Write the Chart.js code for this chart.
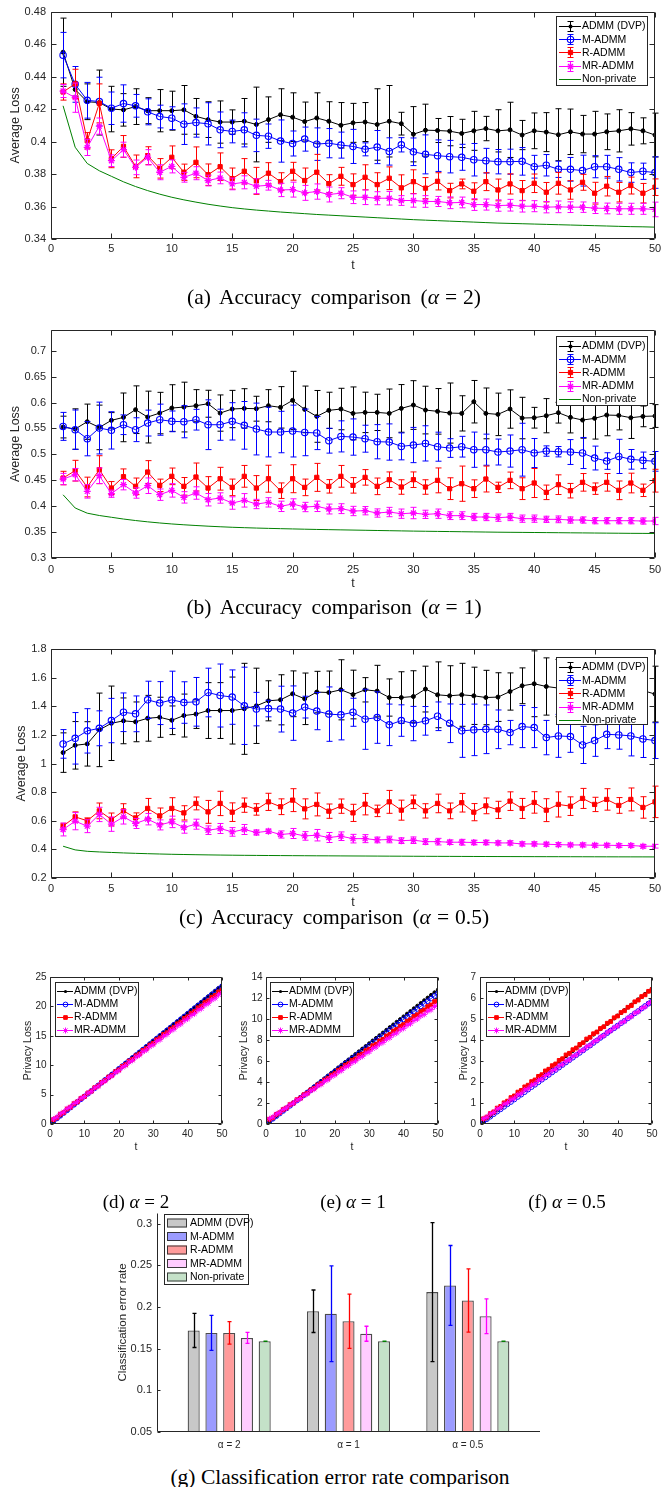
<!DOCTYPE html>
<html><head><meta charset="utf-8">
<script src="https://cdn.jsdelivr.net/npm/chart.js@4.4.1/dist/chart.umd.min.js"></script>
<style>
body{margin:0;background:#fff;}
#wrap{position:relative;width:668px;height:1487px;overflow:hidden;background:#fff;}
canvas{position:absolute;}
.cap{position:absolute;font-family:"Liberation Serif","Times New Roman",serif;font-size:21.5px;color:#000;white-space:nowrap;line-height:24px;transform:translateX(-50%);z-index:2;}
.cap.big{word-spacing:4px;}
.cap.sm{font-size:19px;}
.eq{padding:0 6px;}
</style></head><body>
<div id="wrap">
<canvas id="cA" width="668" height="290" style="left:0;top:0"></canvas>
<canvas id="cB" width="668" height="300" style="left:0;top:300px"></canvas>
<canvas id="cC" width="668" height="300" style="left:0;top:620px"></canvas>
<canvas id="cD" width="232" height="200" style="left:0;top:960px"></canvas>
<canvas id="cE" width="226" height="200" style="left:222px;top:960px"></canvas>
<canvas id="cF" width="232" height="200" style="left:436px;top:960px"></canvas>
<canvas id="cG" width="470" height="265" style="left:90px;top:1200px"></canvas>
<div class="cap big" style="left:334px;top:285px">(a) Accuracy comparison (<i>α</i><span class="eq">=</span>2)</div>
<div class="cap big" style="left:334px;top:595px">(b) Accuracy comparison (<i>α</i><span class="eq">=</span>1)</div>
<div class="cap big" style="left:334px;top:905px">(c) Accuracy comparison (<i>α</i><span class="eq">=</span>0.5)</div>
<div class="cap sm" style="left:136px;top:1190px">(d) <i>α</i> = 2</div>
<div class="cap sm" style="left:353px;top:1190px">(e) <i>α</i> = 1</div>
<div class="cap sm" style="left:567px;top:1190px">(f) <i>α</i> = 0.5</div>
<div class="cap" style="left:340px;top:1465px">(g) Classification error rate comparison</div>
</div>
<script>
// ---------- DATA ----------
const T = [1,2,3,4,5,6,7,8,9,10,11,12,13,14,15,16,17,18,19,20,21,22,23,24,25,26,27,28,29,30,31,32,33,34,35,36,37,38,39,40,41,42,43,44,45,46,47,48,49,50];
const NAMES = ['ADMM (DVP)','M-ADMM','R-ADMM','MR-ADMM','Non-private'];

const NONPRIV = [0.422,0.3965,0.3865,0.382,0.3786,0.3752,0.3723,0.3698,0.3676,0.3657,
0.3641,0.3627,0.3614,0.3603,0.3593,0.3585,0.3578,0.3572,0.3566,0.3561,
0.3556,0.3551,0.3547,0.3543,0.3539,0.3535,0.3531,0.3527,0.3523,0.3519,
0.3516,0.3513,0.351,0.3507,0.3504,0.3501,0.3498,0.3496,0.3494,0.3492,
0.349,0.3488,0.3486,0.3484,0.3482,0.348,0.3478,0.3476,0.3475,0.3473];

// (a) alpha = 2
const A_DVP = [0.455,0.432,0.4245,0.424,0.420,0.4195,0.4215,0.419,0.419,0.419,
0.4195,0.4155,0.4135,0.412,0.412,0.4125,0.4105,0.4135,0.4165,0.415,
0.4123,0.4145,0.4125,0.41,0.4115,0.412,0.4105,0.4125,0.411,0.4045,
0.407,0.4068,0.4064,0.405,0.4066,0.408,0.4066,0.4072,0.404,0.4066,
0.4058,0.4042,0.406,0.4046,0.4046,0.406,0.4066,0.4078,0.4066,0.404];
const A_DVP_ERR = [0.021,0.004,0.011,0.02,0.014,0.01,0.011,0.008,0.013,0.012,
0.015,0.011,0.011,0.013,0.0075,0.014,0.023,0.014,0.016,0.015,
0.012,0.0155,0.012,0.014,0.012,0.012,0.022,0.022,0.007,0.017,
0.016,0.0074,0.009,0.0087,0.012,0.0075,0.013,0.017,0.009,0.011,
0.012,0.016,0.014,0.0115,0.014,0.011,0.013,0.01,0.008,0.0135];
const A_M = [0.4532,0.4352,0.4254,0.4246,0.4205,0.4234,0.422,0.4183,0.4154,0.4144,
0.4107,0.4117,0.4109,0.4072,0.4062,0.4072,0.4038,0.4033,0.4003,0.3988,
0.4015,0.3984,0.399,0.3978,0.397,0.3952,0.3966,0.3939,0.398,0.3937,
0.3921,0.3913,0.3907,0.3903,0.3888,0.3882,0.3876,0.3876,0.3878,0.3845,
0.3854,0.3829,0.3829,0.3821,0.3845,0.3845,0.3829,0.3809,0.3817,0.3809];
const A_M_ERR = [0.014,0.011,0.011,0.015,0.01,0.0115,0.007,0.008,0.007,0.007,
0.0125,0.009,0.013,0.011,0.007,0.0105,0.01,0.0075,0.013,0.0077,
0.0074,0.01,0.009,0.008,0.0105,0.004,0.0102,0.0084,0.0044,0.0085,
0.012,0.0097,0.01,0.008,0.01,0.0076,0.0075,0.0077,0.0085,0.007,
0.0066,0.005,0.0073,0.0095,0.0068,0.007,0.0072,0.006,0.005,0.0097];
const A_R = [0.4305,0.4355,0.4005,0.4235,0.3894,0.397,0.3847,0.3913,0.3835,0.3903,
0.3811,0.3872,0.3796,0.3845,0.3772,0.3817,0.3758,0.3805,0.3753,0.3817,
0.376,0.3811,0.3741,0.3786,0.3735,0.378,0.3735,0.3774,0.3715,0.3753,
0.3713,0.3755,0.3698,0.3739,0.3694,0.3753,0.3702,0.3739,0.3698,0.3743,
0.3688,0.3743,0.3702,0.3749,0.3682,0.3725,0.3688,0.3729,0.3682,0.3719];
const A_R_ERR = [0.005,0.009,0.005,0.012,0.0055,0.0067,0.007,0.0055,0.006,0.007,
0.005,0.0095,0.0066,0.0085,0.0065,0.0078,0.0083,0.0065,0.0055,0.0055,
0.0077,0.011,0.0055,0.0055,0.0066,0.0077,0.0073,0.007,0.008,0.0073,
0.0065,0.0053,0.0045,0.003,0.0052,0.0055,0.0067,0.0062,0.0062,0.0057,
0.006,0.0067,0.0057,0.0049,0.0067,0.006,0.006,0.0052,0.006,0.0051];
const A_MR = [0.4311,0.427,0.3964,0.4095,0.3882,0.395,0.3841,0.3903,0.3811,0.3847,
0.378,0.3805,0.376,0.3776,0.3739,0.3749,0.3725,0.3731,0.3702,0.3704,
0.3684,0.3692,0.3674,0.3682,0.3657,0.3657,0.3651,0.3651,0.3637,0.3637,
0.3631,0.3631,0.3623,0.3625,0.3612,0.3612,0.3606,0.3608,0.3602,0.3602,
0.3596,0.3598,0.3596,0.3596,0.359,0.3588,0.3586,0.3586,0.3586,0.3582];
const A_MR_ERR = [0.004,0.009,0.005,0.005,0.0036,0.0046,0.0045,0.0047,0.0046,0.004,
0.003,0.004,0.0033,0.0036,0.0036,0.004,0.0046,0.003,0.0041,0.0046,
0.0046,0.0047,0.0046,0.0034,0.0039,0.0045,0.004,0.0042,0.003,0.0041,
0.0036,0.0031,0.0036,0.0033,0.0036,0.0034,0.0035,0.0036,0.0036,0.0034,
0.0035,0.0036,0.0033,0.0032,0.0033,0.0033,0.0034,0.0034,0.0034,0.0045];

// (b) alpha = 1
const B_DVP = [0.5527,0.5489,0.563,0.552,0.5656,0.5714,0.5862,0.572,0.5797,0.5894,
0.5913,0.5939,0.5977,0.5797,0.5875,0.5887,0.5881,0.5939,0.5907,0.6042,
0.5868,0.5733,0.5849,0.5875,0.5791,0.581,0.581,0.5791,0.5887,0.5952,
0.5855,0.583,0.5797,0.5791,0.6016,0.5791,0.5772,0.5875,0.5701,0.5707,
0.5746,0.5804,0.5714,0.5662,0.5695,0.5759,0.5752,0.5707,0.5733,0.574];
const B_DVP_ERR = [0.021,0.039,0.034,0.043,0.015,0.047,0.046,0.05,0.04,0.045,
0.048,0.031,0.026,0.035,0.036,0.038,0.024,0.031,0.04,0.056,
0.045,0.05,0.035,0.04,0.051,0.039,0.035,0.047,0.046,0.047,
0.046,0.044,0.058,0.034,0.041,0.049,0.041,0.037,0.04,0.02,
0.033,0.02,0.03,0.035,0.04,0.04,0.028,0.04,0.02,0.022];
const B_M = [0.554,0.5476,0.5302,0.5508,0.5463,0.5572,0.5476,0.5604,0.5669,0.5637,
0.563,0.5669,0.5572,0.5572,0.5637,0.556,0.5489,0.5431,0.5431,0.545,
0.5424,0.5412,0.5264,0.5347,0.5334,0.5302,0.5244,0.5238,0.5154,0.518,
0.5212,0.5148,0.5122,0.5148,0.509,0.509,0.5045,0.5064,0.509,0.5026,
0.5064,0.5051,0.5045,0.5026,0.4929,0.4871,0.4961,0.4904,0.4884,0.4865];
const B_M_ERR = [0.027,0.038,0.033,0.05,0.036,0.019,0.023,0.025,0.03,0.02,
0.031,0.02,0.048,0.03,0.036,0.046,0.05,0.048,0.04,0.05,
0.045,0.032,0.024,0.03,0.035,0.026,0.033,0.035,0.026,0.034,
0.034,0.028,0.018,0.02,0.034,0.03,0.025,0.031,0.051,0.028,
0.01,0.01,0.024,0.03,0.023,0.016,0.033,0.019,0.016,0.019];
const B_R = [0.4543,0.4685,0.437,0.4704,0.435,0.4569,0.4383,0.4659,0.4402,0.4576,
0.4383,0.4563,0.435,0.453,0.4363,0.4576,0.435,0.453,0.4299,0.453,
0.4363,0.4556,0.4383,0.4576,0.4402,0.4556,0.4383,0.4511,0.437,0.4511,
0.437,0.4498,0.4338,0.4434,0.4338,0.4524,0.4363,0.4498,0.4338,0.4447,
0.4267,0.4415,0.4299,0.446,0.4338,0.446,0.4306,0.4447,0.4306,0.4492];
const B_R_ERR = [0.013,0.02,0.019,0.027,0.0125,0.015,0.016,0.022,0.012,0.016,
0.017,0.027,0.022,0.022,0.016,0.021,0.024,0.026,0.015,0.027,
0.016,0.027,0.013,0.021,0.015,0.015,0.016,0.015,0.014,0.015,
0.014,0.024,0.021,0.034,0.017,0.025,0.01,0.016,0.021,0.028,
0.014,0.019,0.014,0.017,0.011,0.017,0.018,0.019,0.012,0.022];
const B_MR = [0.4524,0.4608,0.4286,0.4588,0.4241,0.4415,0.4254,0.4395,0.4222,0.4305,
0.417,0.4254,0.4125,0.4158,0.4061,0.4113,0.4042,0.4074,0.3997,0.4042,
0.3984,0.3997,0.3945,0.3952,0.3907,0.3913,0.3868,0.3887,0.3855,0.3868,
0.3842,0.3855,0.3817,0.3817,0.3791,0.3791,0.3778,0.3791,0.3759,0.3759,
0.3746,0.3746,0.3733,0.3733,0.372,0.372,0.372,0.372,0.3714,0.3714];
const B_MR_ERR = [0.011,0.012,0.013,0.015,0.007,0.01,0.01,0.015,0.011,0.013,
0.011,0.012,0.012,0.01,0.012,0.013,0.009,0.009,0.01,0.01,
0.009,0.01,0.0095,0.0095,0.009,0.008,0.008,0.009,0.009,0.011,
0.008,0.009,0.0075,0.0075,0.007,0.007,0.007,0.007,0.007,0.007,
0.006,0.0065,0.006,0.006,0.006,0.006,0.006,0.006,0.006,0.007];

// (c) alpha = 0.5
const C_DVP = [1.076,1.127,1.137,1.235,1.281,1.298,1.291,1.316,1.323,1.302,
1.335,1.345,1.37,1.37,1.37,1.382,1.403,1.438,1.445,1.487,
1.452,1.499,1.496,1.515,1.482,1.515,1.506,1.461,1.461,1.468,
1.52,1.48,1.473,1.48,1.473,1.461,1.464,1.503,1.543,1.557,
1.538,1.527,1.51,1.52,1.5,1.53,1.52,1.53,1.51,1.485];
const C_DVP_ERR = [0.138,0.166,0.155,0.257,0.26,0.16,0.139,0.16,0.14,0.1,
0.15,0.1,0.195,0.195,0.234,0.318,0.263,0.14,0.175,0.16,
0.18,0.145,0.15,0.21,0.17,0.085,0.18,0.13,0.18,0.18,
0.16,0.23,0.21,0.22,0.2,0.19,0.17,0.13,0.125,0.23,
0.2,0.2,0.2,0.2,0.2,0.2,0.2,0.2,0.2,0.195];
const C_M = [1.137,1.176,1.228,1.246,1.3,1.358,1.347,1.445,1.422,1.445,
1.426,1.431,1.496,1.475,1.464,1.403,1.38,1.384,1.38,1.352,
1.394,1.366,1.345,1.34,1.358,1.309,1.321,1.27,1.3,1.279,
1.298,1.33,1.281,1.228,1.235,1.239,1.239,1.216,1.258,1.251,
1.181,1.193,1.188,1.13,1.16,1.204,1.2,1.193,1.172,1.16];
const C_M_ERR = [0.1,0.18,0.155,0.122,0.155,0.135,0.125,0.13,0.15,0.2,
0.145,0.17,0.17,0.22,0.19,0.27,0.117,0.058,0.16,0.19,
0.076,0.13,0.19,0.175,0.098,0.21,0.18,0.145,0.11,0.12,
0.1,0.1,0.135,0.185,0.18,0.17,0.135,0.085,0.147,0.14,
0.12,0.15,0.11,0.13,0.11,0.1,0.1,0.14,0.13,0.125];
const C_R = [0.562,0.627,0.6,0.669,0.609,0.669,0.62,0.686,0.634,0.686,
0.655,0.721,0.662,0.721,0.66,0.709,0.679,0.732,0.698,0.744,
0.683,0.714,0.667,0.702,0.655,0.716,0.669,0.732,0.674,0.732,
0.669,0.721,0.669,0.726,0.66,0.704,0.676,0.737,0.686,0.728,
0.674,0.714,0.702,0.756,0.714,0.749,0.707,0.749,0.693,0.732];
const C_R_ERR = [0.02,0.035,0.02,0.055,0.045,0.05,0.035,0.07,0.055,0.075,
0.05,0.045,0.08,0.085,0.065,0.05,0.04,0.06,0.055,0.08,
0.07,0.08,0.05,0.05,0.06,0.075,0.04,0.08,0.07,0.047,
0.05,0.065,0.055,0.065,0.06,0.055,0.06,0.065,0.07,0.075,
0.08,0.088,0.065,0.07,0.05,0.075,0.055,0.08,0.075,0.11];
const C_MR = [0.539,0.597,0.562,0.644,0.576,0.627,0.581,0.611,0.571,0.592,
0.553,0.576,0.534,0.546,0.522,0.539,0.518,0.527,0.504,0.511,
0.494,0.499,0.483,0.492,0.475,0.475,0.466,0.469,0.461,0.464,
0.454,0.454,0.45,0.45,0.448,0.448,0.445,0.445,0.438,0.438,
0.436,0.433,0.431,0.431,0.429,0.429,0.427,0.427,0.422,0.422];
const C_MR_ERR = [0.045,0.06,0.045,0.05,0.05,0.05,0.035,0.04,0.035,0.04,
0.04,0.035,0.03,0.035,0.03,0.035,0.018,0.015,0.025,0.035,
0.03,0.04,0.035,0.03,0.03,0.028,0.02,0.023,0.02,0.023,
0.02,0.023,0.016,0.02,0.016,0.016,0.015,0.015,0.015,0.015,
0.014,0.014,0.013,0.014,0.013,0.013,0.012,0.012,0.012,0.013];

// (d) privacy loss alpha = 2
const D_DVP = [0.47,0.94,1.42,1.89,2.36,2.83,3.30,3.78,4.25,4.72,5.19,5.66,6.14,6.61,7.08,7.55,8.02,8.50,8.97,9.44,9.91,10.38,10.86,11.33,11.80,12.27,12.74,13.22,13.69,14.16,14.63,15.10,15.58,16.05,16.52,16.99,17.46,17.94,18.41,18.88,19.35,19.82,20.30,20.77,21.24,21.71,22.18,22.66,23.13,23.60];
const D_M = [0.47,0.94,1.40,1.87,2.34,2.81,3.28,3.74,4.21,4.68,5.15,5.62,6.08,6.55,7.02,7.49,7.96,8.42,8.89,9.36,9.83,10.30,10.76,11.23,11.70,12.17,12.64,13.10,13.57,14.04,14.51,14.98,15.44,15.91,16.38,16.85,17.32,17.78,18.25,18.72,19.19,19.66,20.12,20.59,21.06,21.53,22.00,22.46,22.93,23.40];
const D_R = [0.75,1.05,1.66,1.96,2.56,2.86,3.47,3.77,4.37,4.67,5.28,5.58,6.18,6.48,7.09,7.39,7.99,8.29,8.90,9.20,9.80,10.10,10.71,11.01,11.61,11.91,12.52,12.82,13.42,13.72,14.33,14.63,15.23,15.53,16.14,16.44,17.04,17.34,17.95,18.25,18.85,19.15,19.76,20.06,20.66,20.96,21.57,21.87,22.47,22.77];
const D_MR = [0.85,1.15,1.73,2.03,2.61,2.91,3.49,3.79,4.37,4.67,5.25,5.55,6.13,6.43,7.01,7.31,7.89,8.19,8.77,9.07,9.65,9.95,10.53,10.83,11.41,11.71,12.29,12.59,13.17,13.47,14.05,14.35,14.93,15.23,15.81,16.11,16.69,16.99,17.57,17.87,18.45,18.75,19.33,19.63,20.21,20.51,21.09,21.39,21.97,22.27];
// (e) privacy loss alpha = 1
const E_DVP = [0.26,0.51,0.77,1.02,1.28,1.54,1.79,2.05,2.30,2.56,2.82,3.07,3.33,3.58,3.84,4.10,4.35,4.61,4.86,5.12,5.38,5.63,5.89,6.14,6.40,6.66,6.91,7.17,7.42,7.68,7.94,8.19,8.45,8.70,8.96,9.22,9.47,9.73,9.98,10.24,10.50,10.75,11.01,11.26,11.52,11.78,12.03,12.29,12.54,12.80];
const E_M = [0.25,0.50,0.75,1.00,1.25,1.49,1.74,1.99,2.24,2.49,2.74,2.99,3.24,3.49,3.74,3.98,4.23,4.48,4.73,4.98,5.23,5.48,5.73,5.98,6.23,6.47,6.72,6.97,7.22,7.47,7.72,7.97,8.22,8.47,8.72,8.96,9.21,9.46,9.71,9.96,10.21,10.46,10.71,10.96,11.21,11.45,11.70,11.95,12.20,12.45];
const E_R = [0.45,0.60,0.92,1.07,1.38,1.53,1.85,2.00,2.32,2.47,2.79,2.94,3.25,3.40,3.72,3.87,4.19,4.34,4.65,4.80,5.12,5.27,5.59,5.74,6.05,6.20,6.52,6.67,6.99,7.14,7.46,7.61,7.92,8.07,8.39,8.54,8.86,9.01,9.32,9.47,9.79,9.94,10.26,10.41,10.72,10.87,11.19,11.34,11.66,11.81];
const E_MR = [0.50,0.65,0.95,1.10,1.39,1.54,1.84,1.99,2.28,2.43,2.73,2.88,3.17,3.32,3.62,3.77,4.06,4.21,4.51,4.66,4.95,5.10,5.40,5.55,5.84,5.99,6.29,6.44,6.73,6.88,7.18,7.33,7.62,7.77,8.07,8.22,8.51,8.66,8.96,9.11,9.40,9.55,9.85,10.00,10.29,10.44,10.74,10.89,11.18,11.33];
// (f) privacy loss alpha = 0.5
const F_DVP = [0.13,0.26,0.39,0.52,0.65,0.77,0.90,1.03,1.16,1.29,1.42,1.55,1.68,1.81,1.94,2.06,2.19,2.32,2.45,2.58,2.71,2.84,2.97,3.10,3.23,3.35,3.48,3.61,3.74,3.87,4.00,4.13,4.26,4.39,4.52,4.64,4.77,4.90,5.03,5.16,5.29,5.42,5.55,5.68,5.81,5.93,6.06,6.19,6.32,6.45];
const F_M = [0.12,0.23,0.35,0.47,0.59,0.70,0.82,0.94,1.05,1.17,1.29,1.40,1.52,1.64,1.76,1.87,1.99,2.11,2.22,2.34,2.46,2.57,2.69,2.81,2.93,3.04,3.16,3.28,3.39,3.51,3.63,3.74,3.86,3.98,4.10,4.21,4.33,4.45,4.56,4.68,4.80,4.91,5.03,5.15,5.27,5.38,5.50,5.62,5.73,5.85];
const F_R = [0.25,0.33,0.50,0.58,0.76,0.84,1.01,1.09,1.26,1.34,1.52,1.60,1.77,1.85,2.02,2.10,2.27,2.35,2.53,2.61,2.78,2.86,3.03,3.11,3.29,3.37,3.54,3.62,3.79,3.87,4.05,4.13,4.30,4.38,4.55,4.63,4.80,4.88,5.06,5.14,5.31,5.39,5.56,5.64,5.82,5.90,6.07,6.15,6.32,6.40];
const F_MR = [0.25,0.32,0.48,0.55,0.71,0.78,0.94,1.01,1.16,1.23,1.39,1.46,1.62,1.69,1.85,1.92,2.08,2.15,2.31,2.38,2.54,2.61,2.77,2.84,2.99,3.06,3.22,3.29,3.45,3.52,3.68,3.75,3.91,3.98,4.14,4.21,4.37,4.44,4.59,4.66,4.82,4.89,5.05,5.12,5.28,5.35,5.51,5.58,5.74,5.81];

// (g) classification error rate
const BAR_CATS = ['\u03b1 = 2','\u03b1 = 1','\u03b1 = 0.5'];
const BAR_POS = [1,2,3];
const BAR_DVP = [0.172,0.195,0.218], BAR_DVP_ERR = [0.0205,0.0255,0.0835];
const BAR_M = [0.169,0.192,0.226],   BAR_M_ERR = [0.021,0.0575,0.048];
const BAR_R = [0.169,0.183,0.208],   BAR_R_ERR = [0.0135,0.0325,0.038];
const BAR_MR = [0.163,0.168,0.189],  BAR_MR_ERR = [0.0066,0.009,0.0208];
const BAR_NP = [0.159,0.159,0.159],  BAR_NP_ERR = [0,0,0];

// tick values
const X_TICKS_T = [0,5,10,15,20,25,30,35,40,45,50];
const X_TICKS_P = [0,10,20,30,40,50];
const Y_TICKS_A = [0.34,0.36,0.38,0.40,0.42,0.44,0.46,0.48];
const Y_TICKS_B = [0.3,0.35,0.4,0.45,0.5,0.55,0.6,0.65,0.7];
const Y_TICKS_C = [0.2,0.4,0.6,0.8,1.0,1.2,1.4,1.6,1.8];
const Y_TICKS_D = [0,5,10,15,20,25];
const Y_TICKS_E = [0,2,4,6,8,10,12,14];
const Y_TICKS_F = [0,1,2,3,4,5,6,7];
const Y_TICKS_G = [0.05,0.1,0.15,0.2,0.25,0.3];

// ---------- RENDERING ----------
const FONT = '"Liberation Sans", Arial, Helvetica, sans-serif';
const AXC = '#262626';
const COLORS = ['#000000','#0000ff','#ff0000','#ff00ff','#008000'];
function fmt(v){ return String(Math.round(v*10000)/10000); }
const ML = {};

function drawMarker(ctx, style, x, y, r, color, lw){
  if(style==='none') return;
  ctx.save(); ctx.strokeStyle=color; ctx.fillStyle=color; ctx.lineWidth=lw||1;
  ctx.beginPath();
  if(style==='dot'){ ctx.arc(x,y,r,0,2*Math.PI); ctx.fill(); }
  else if(style==='circle'){ ctx.arc(x,y,r,0,2*Math.PI); ctx.stroke(); }
  else if(style==='square'){ const s=r*Math.SQRT1_2; ctx.rect(x-s,y-s,2*s,2*s); ctx.fill(); ctx.stroke(); }
  else if(style==='star'){ for(let k=0;k<4;k++){ const a=k*Math.PI/4; ctx.moveTo(x-Math.cos(a)*r,y-Math.sin(a)*r); ctx.lineTo(x+Math.cos(a)*r,y+Math.sin(a)*r);} ctx.stroke(); }
  ctx.restore();
}

const errPlugin = {
  id:'errbars',
  afterDatasetDraw(chart, args){
    const ds = chart.data.datasets[args.index];
    if(!ds.errors) return;
    const ys = chart.scales.y, ctx = chart.ctx, cap = ds.errCap || 3;
    ctx.save();
    ctx.strokeStyle = ds.errColor || ds.borderColor;
    ctx.lineWidth = ds.errWidth || 1;
    ctx.beginPath();
    args.meta.data.forEach((el,i)=>{
      const d = ds.data[i]; const v = (typeof d === 'object') ? d.y : d;
      const e = ds.errors[i];
      const x = Math.round(el.x)+0.5;
      const y1 = ys.getPixelForValue(v+e), y2 = ys.getPixelForValue(v-e);
      ctx.moveTo(x,y1); ctx.lineTo(x,y2);
      ctx.moveTo(x-cap,y1); ctx.lineTo(x+cap,y1);
      ctx.moveTo(x-cap,y2); ctx.lineTo(x+cap,y2);
    });
    ctx.stroke(); ctx.restore();
  }
};

const mlPlugin = {
  id:'mlbox',
  afterDraw(chart){
    const cfg = ML[chart.canvas.id]; if(!cfg) return;
    const ctx = chart.ctx, a = chart.chartArea, xs = chart.scales.x, ys = chart.scales.y;
    const L = Math.round(a.left)+0.5, R = Math.round(a.right)-0.5, Tp = Math.round(a.top)+0.5, B = Math.round(a.bottom)-0.5;
    ctx.save(); ctx.strokeStyle = AXC; ctx.lineWidth = 1; ctx.beginPath();
    const tl = cfg.tickLen;
    if(cfg.full){
      ctx.rect(L,Tp,R-L,B-Tp);
      xs.ticks.forEach(t=>{ const px=Math.round(xs.getPixelForValue(t.value))+0.5; ctx.moveTo(px,B); ctx.lineTo(px,B-tl); ctx.moveTo(px,Tp); ctx.lineTo(px,Tp+tl); });
      ys.ticks.forEach(t=>{ const py=Math.round(ys.getPixelForValue(t.value))+0.5; ctx.moveTo(L,py); ctx.lineTo(L+tl,py); ctx.moveTo(R,py); ctx.lineTo(R-tl,py); });
    } else {
      ctx.moveTo(L,Tp); ctx.lineTo(L,B); ctx.lineTo(R+0.5,B);
      ys.ticks.forEach(t=>{ const py=Math.round(ys.getPixelForValue(t.value))+0.5; ctx.moveTo(L,py); ctx.lineTo(L+tl,py); });
    }
    ctx.stroke(); ctx.restore();
    // legend
    const lg = cfg.legend;
    ctx.save();
    ctx.fillStyle='#fff'; ctx.fillRect(lg.x,lg.y,lg.w,lg.h);
    ctx.strokeStyle=AXC; ctx.lineWidth=1; ctx.strokeRect(lg.x+0.5,lg.y+0.5,lg.w-1,lg.h-1);
    ctx.font = lg.fontSize+'px '+FONT; ctx.textBaseline='middle'; ctx.textAlign='left';
    lg.items.forEach((it,i)=>{
      const cy = lg.y + lg.first + i*lg.step;
      if(lg.patch){
        ctx.fillStyle = it.fill; ctx.fillRect(lg.x+lg.sx0, cy-lg.ph/2, lg.sx1-lg.sx0, lg.ph);
        ctx.strokeStyle='rgba(40,40,40,0.9)'; ctx.lineWidth=1; ctx.strokeRect(lg.x+lg.sx0+0.5, cy-lg.ph/2+0.5, lg.sx1-lg.sx0-1, lg.ph-1);
      } else {
        const yy = Math.round(cy)+0.5;
        ctx.strokeStyle = it.color; ctx.lineWidth = 1; ctx.beginPath();
        ctx.moveTo(lg.x+lg.sx0, yy); ctx.lineTo(lg.x+lg.sx1, yy);
        const mx = Math.round(lg.x+lg.mx)+0.5;
        if(it.err){ ctx.moveTo(mx,yy-5); ctx.lineTo(mx,yy+5); ctx.moveTo(mx-3,yy-5); ctx.lineTo(mx+3,yy-5); ctx.moveTo(mx-3,yy+5); ctx.lineTo(mx+3,yy+5); }
        ctx.stroke();
        drawMarker(ctx, it.marker, mx, yy, it.mr, it.color, it.mlw);
      }
      ctx.fillStyle='#000'; ctx.fillText(it.label, lg.x+lg.tx, cy+0.5);
    });
    ctx.restore();
  }
};

function psMap(m){ return m==='dot'?'circle':m==='circle'?'circle':m==='square'?'rect':m==='star'?'star':'circle'; }

function makeLineChart(id, cfg){
  const el = document.getElementById(id);
  const W = el.width, H = el.height;
  const datasets = cfg.series.map((s,k)=>({
    label:s.label,
    data:T.map((t,i)=>({x:t,y:s.values[i]})),
    errors:s.errors||null,
    borderColor:s.color, backgroundColor:s.color, borderWidth:1,
    pointStyle:psMap(s.marker), pointRadius:s.marker==='none'?0:s.mr,
    pointBorderWidth:s.mlw||1, pointBorderColor:s.color,
    pointBackgroundColor:(s.marker==='circle'||s.marker==='star')?'rgba(0,0,0,0)':s.color,
    tension:0, fill:false, order:10-k, errCap:cfg.errCap
  }));
  ML[id] = {full:true, tickLen:cfg.tickLen, legend:Object.assign({}, cfg.legend, {items:cfg.series.map(s=>({label:s.label,color:s.color,marker:s.marker,mr:s.lmr||s.mr,mlw:s.mlw||1,err:!!s.errors}))})};
  return new Chart(el, {
    type:'line', data:{datasets},
    options:{
      responsive:false, animation:false, devicePixelRatio:1, events:[],
      layout:{padding:{left:0,top:cfg.T,right:W-cfg.R,bottom:0}},
      plugins:{legend:{display:false}, tooltip:{enabled:false}},
      scales:{
        x:{type:'linear', min:0, max:50,
          afterBuildTicks:s=>{ s.ticks = cfg.xticks.map(v=>({value:v})); },
          afterFit:s=>{ s.height = H - cfg.B; },
          grid:{display:false, drawTicks:false}, border:{display:false},
          ticks:{font:{family:FONT,size:cfg.tickSize}, color:AXC, padding:cfg.xPad, autoSkip:false, maxRotation:0, callback:v=>fmt(v)},
          title:{display:true, text:'t', font:{family:FONT,size:cfg.titleSize}, color:AXC, padding:{top:0,bottom:cfg.xTitlePad}}},
        y:{type:'linear', min:cfg.ymin, max:cfg.ymax,
          afterBuildTicks:s=>{ s.ticks = cfg.yticks.map(v=>({value:v})); },
          afterFit:s=>{ s.width = cfg.L; },
          grid:{display:false, drawTicks:false}, border:{display:false},
          ticks:{font:{family:FONT,size:cfg.tickSize}, color:AXC, padding:cfg.yPad, autoSkip:false, callback:v=>fmt(v)},
          title:{display:true, text:cfg.yTitle, font:{family:FONT,size:cfg.titleSize}, color:AXC, padding:{top:cfg.yTitlePad,bottom:0}}}
      }
    },
    plugins:[errPlugin, mlPlugin]
  });
}

function accSeries(dvp,dvpE,m,mE,r,rE,mr,mrE){
  return [
    {label:NAMES[0], values:dvp, errors:dvpE, color:COLORS[0], marker:'dot', mr:2, lmr:2},
    {label:NAMES[1], values:m, errors:mE, color:COLORS[1], marker:'circle', mr:3.2, mlw:1.1},
    {label:NAMES[2], values:r, errors:rE, color:COLORS[2], marker:'square', mr:3},
    {label:NAMES[3], values:mr, errors:mrE, color:COLORS[3], marker:'star', mr:3.5, mlw:1.3},
    {label:NAMES[4], values:NONPRIV, errors:null, color:COLORS[4], marker:'none', mr:0}
  ];
}
function privSeries(dvp,m,r,mr){
  return [
    {label:NAMES[0], values:dvp, color:COLORS[0], marker:'dot', mr:1.6},
    {label:NAMES[1], values:m, color:COLORS[1], marker:'circle', mr:2.4},
    {label:NAMES[2], values:r, color:COLORS[2], marker:'square', mr:2.6},
    {label:NAMES[3], values:mr, color:COLORS[3], marker:'star', mr:3}
  ];
}

const bigLegend = {w:92,h:70,first:10,step:13.2,sx0:3,sx1:25,mx:14,tx:26,fontSize:10.5};
const smallLegend = {w:84,h:55,first:9,step:13,sx0:2,sx1:18,mx:10,tx:19,fontSize:10.5};

makeLineChart('cA',{L:51,R:655,T:10,B:239, ymin:0.34,ymax:0.48, xticks:X_TICKS_T, yticks:Y_TICKS_A,
  tickSize:11,titleSize:12.5, xPad:3, xTitlePad:16.5, yPad:5, yTitlePad:8.5, yTitle:'Average Loss', tickLen:5, errCap:3,
  legend:Object.assign({x:556,y:16},bigLegend),
  series:accSeries(A_DVP,A_DVP_ERR,A_M,A_M_ERR,A_R,A_R_ERR,A_MR,A_MR_ERR)});
makeLineChart('cB',{L:51,R:655,T:30,B:258, ymin:0.3,ymax:0.74, xticks:X_TICKS_T, yticks:Y_TICKS_B,
  tickSize:11,titleSize:12.5, xPad:5, xTitlePad:8.5, yPad:5, yTitlePad:8.5, yTitle:'Average Loss', tickLen:5, errCap:3,
  legend:Object.assign({x:556,y:36},bigLegend),
  series:accSeries(B_DVP,B_DVP_ERR,B_M,B_M_ERR,B_R,B_R_ERR,B_MR,B_MR_ERR)});
makeLineChart('cC',{L:51,R:655,T:29,B:258, ymin:0.2,ymax:1.8, xticks:X_TICKS_T, yticks:Y_TICKS_C,
  tickSize:11,titleSize:12.5, xPad:4.5, xTitlePad:9.5, yPad:4.5, yTitlePad:14.5, yTitle:'Average Loss', tickLen:5, errCap:3,
  legend:Object.assign({x:556,y:37},bigLegend,{h:68}),
  series:accSeries(C_DVP,C_DVP_ERR,C_M,C_M_ERR,C_R,C_R_ERR,C_MR,C_MR_ERR)});
makeLineChart('cD',{L:50,R:222,T:17,B:164, ymin:0,ymax:25, xticks:X_TICKS_P, yticks:Y_TICKS_D,
  tickSize:10,titleSize:10.5, xPad:4, xTitlePad:6.7, yPad:3.5, yTitlePad:21.7, yTitle:'Privacy Loss', tickLen:3,
  legend:Object.assign({x:55,y:22},smallLegend), series:privSeries(D_DVP,D_M,D_R,D_MR)});
makeLineChart('cE',{L:44,R:216,T:17,B:164, ymin:0,ymax:14, xticks:X_TICKS_P, yticks:Y_TICKS_E,
  tickSize:10,titleSize:10.5, xPad:4, xTitlePad:6.7, yPad:3.5, yTitlePad:15.7, yTitle:'Privacy Loss', tickLen:3,
  legend:Object.assign({x:48,y:22},smallLegend), series:privSeries(E_DVP,E_M,E_R,E_MR)});
makeLineChart('cF',{L:44,R:216,T:17,B:164, ymin:0,ymax:7, xticks:X_TICKS_P, yticks:Y_TICKS_F,
  tickSize:10,titleSize:10.5, xPad:4, xTitlePad:6.7, yPad:4, yTitlePad:21.7, yTitle:'Privacy Loss', tickLen:3,
  legend:Object.assign({x:50,y:22},smallLegend), series:privSeries(F_DVP,F_M,F_R,F_MR)});

// bar chart
(function(){
  const el = document.getElementById('cG'); const W = el.width, H = el.height;
  const cfg = {L:67,R:450,T:13,B:232};
  const fills = ['#c8c8c8','#9b9bff','#ff9b9b','#ffccff','#c4e1c8'];
  const vals = [BAR_DVP,BAR_M,BAR_R,BAR_MR,BAR_NP], errs = [BAR_DVP_ERR,BAR_M_ERR,BAR_R_ERR,BAR_MR_ERR,BAR_NP_ERR];
  const datasets = vals.map((v,k)=>({
    label:NAMES[k], data:BAR_POS.map((p,i)=>({x:p,y:v[i]})), errors:errs[k],
    backgroundColor:fills[k], borderColor:'rgba(45,45,45,0.85)', borderWidth:1.3,
    errColor:COLORS[k], errWidth:1.3, errCap:2,
    categoryPercentage:0.744, barPercentage:0.68
  }));
  ML['cG'] = {full:false, tickLen:3, legend:{x:74,y:14,w:85,h:71,first:9,step:13.5,sx0:3,sx1:23,ph:9,tx:26,fontSize:10.5,patch:true,
    items:NAMES.map((n,k)=>({label:n, fill:fills[k]}))}};
  new Chart(el,{type:'bar', data:{datasets},
    options:{responsive:false, animation:false, devicePixelRatio:1, events:[],
      layout:{padding:{left:0,top:cfg.T,right:W-cfg.R,bottom:0}},
      plugins:{legend:{display:false}, tooltip:{enabled:false}},
      scales:{
        x:{type:'linear', min:0.395, max:3.605, offset:false,
          afterBuildTicks:s=>{ s.ticks = BAR_POS.map(v=>({value:v})); },
          afterFit:s=>{ s.height = H - cfg.B; },
          grid:{display:false, drawTicks:false}, border:{display:false},
          ticks:{font:{family:FONT,size:10}, color:AXC, padding:7, autoSkip:false, maxRotation:0, callback:v=>BAR_CATS[Math.round(v)-1]}},
        y:{type:'linear', min:0.05, max:0.313,
          afterBuildTicks:s=>{ s.ticks = Y_TICKS_G.map(v=>({value:v})); },
          afterFit:s=>{ s.width = cfg.L; },
          grid:{display:false, drawTicks:false}, border:{display:false},
          ticks:{font:{family:FONT,size:11}, color:AXC, padding:5, autoSkip:false, callback:v=>fmt(v)},
          title:{display:true, text:'Classification error rate', font:{family:FONT,size:11.5}, color:AXC, padding:{top:26,bottom:0}}}
      }},
    plugins:[errPlugin, mlPlugin]});
})();
</script>
</body></html>
